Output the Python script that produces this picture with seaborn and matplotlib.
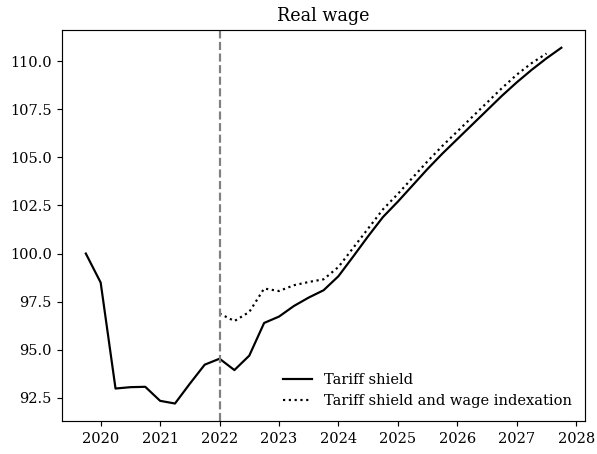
import numpy as np
import pandas as pd
import seaborn as sns
import matplotlib
matplotlib.use('Agg')
import matplotlib.pyplot as plt

# quarterly dates (year fractions)
quarters = [2019.75 + 0.25 * i for i in range(33)]

tariff_shield = [100.0, 98.49, 92.98, 93.05, 93.07, 92.34, 92.2, 93.23, 94.22,
                 94.53, 93.94, 94.69, 96.39, 96.72, 97.27, 97.71, 98.09,
                 98.82, 99.85, 100.9, 101.9, 102.7, 103.55, 104.4, 105.2,
                 105.95, 106.7, 107.45, 108.2, 108.9, 109.55, 110.15, 110.7]

indexation_quarters = quarters[9:32]
indexation = [96.88, 96.49, 96.96, 98.18, 98.05, 98.35, 98.52, 98.66,
              99.3, 100.3, 101.3, 102.3, 103.1, 103.95, 104.8, 105.6,
              106.35, 107.1, 107.85, 108.6, 109.3, 109.9, 110.4]

shock_date = 2022.0

plt.rcParams['font.family'] = ['DejaVu Serif']

df_a = pd.DataFrame({'date': quarters, 'value': tariff_shield})
df_b = pd.DataFrame({'date': indexation_quarters, 'value': indexation})

dpi = 105
fig = plt.figure(figsize=(597 / dpi, 454 / dpi), dpi=dpi)
ax = fig.add_axes([0.1039, 0.0720, 0.8762, 0.862])

sns.lineplot(data=df_a, x='date', y='value', color='black', linewidth=1.5,
             label='Tariff shield', ax=ax)
sns.lineplot(data=df_b, x='date', y='value', color='black', linewidth=1.5,
             linestyle=':', label='Tariff shield and wage indexation', ax=ax)
ax.axvline(shock_date, color='gray', linestyle='--', linewidth=1.5)

ax.set_title('Real wage', fontsize=12)
ax.set_xlabel('')
ax.set_ylabel('')
ax.set_xticks(range(2020, 2029))
ax.legend(loc='lower right', frameon=False, fontsize=10)

plt.savefig('out.png', dpi=dpi)
